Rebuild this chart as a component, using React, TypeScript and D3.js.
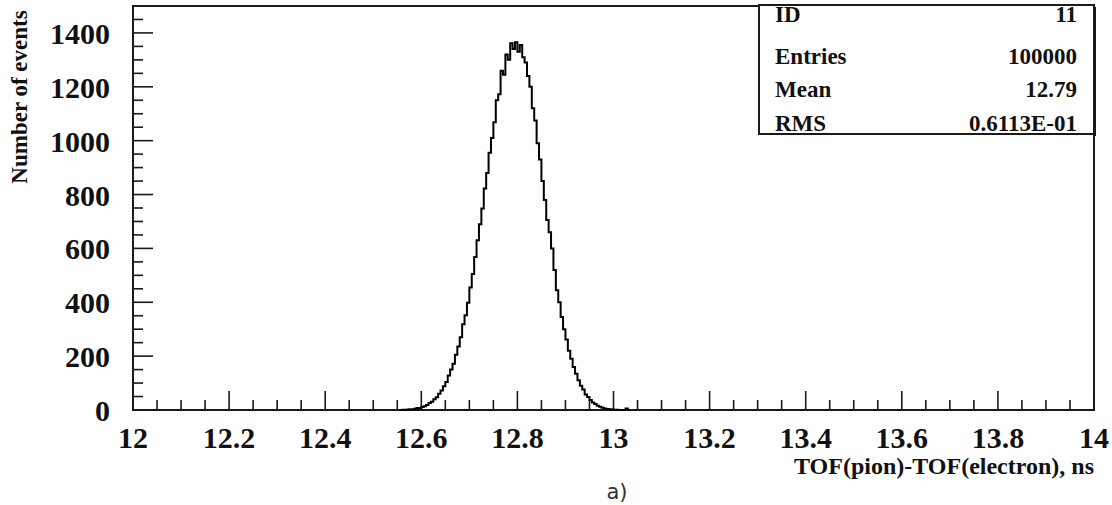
import React, { useEffect, useRef } from 'react';
import * as d3 from 'd3';

// histogram: bins of 0.005 ns starting at 12.555
const binStart = 12.555;
const binWidth = 0.005;
const counts = [
  0, 1, 0, 2, 3, 2, 5, 7, 6, 11, 14, 19, 26, 31, 40, 47, 60, 72, 88, 104,
  128, 150, 172, 205, 236, 270, 318, 352, 398, 455, 505, 568, 630, 690, 748, 822,
  880, 955, 1010, 1068, 1150, 1172, 1260, 1245, 1320, 1300, 1362, 1340,
  1365, 1330, 1355, 1310, 1290, 1240, 1200, 1120, 1075, 990, 930, 850,
  780, 705, 660, 600, 520, 445, 400, 345, 300, 262, 220, 190, 160, 135,
  110, 90, 76, 58, 48, 37, 28, 22, 16, 12, 8, 6, 4, 3, 2, 1, 1, 0, 0, 0, 6, 0,
];

const xTickLabels = [12, 12.2, 12.4, 12.6, 12.8, 13, 13.2, 13.4, 13.6, 13.8, 14];
const yTickLabels = [0, 200, 400, 600, 800, 1000, 1200, 1400];
const statNames = ['ID', 'Entries', 'Mean', 'RMS'];
const statValues = ['11', '100000', '12.79', '0.6113E-01'];

const W = 1112;
const H = 505;
const serif = '"Liberation Serif", "DejaVu Serif", serif';

const App = () => {
  const ref = useRef<SVGSVGElement>(null);

  useEffect(() => {
    document.body.style.margin = '0';
    const svg = d3.select(ref.current);
    svg.selectAll('*').remove();

    const left = 133, right = 1094, top = 6, bottom = 410;
    const x = d3.scaleLinear().domain([12, 14]).range([left, right]);
    const y = d3.scaleLinear().domain([0, 1500]).range([bottom, top]);
    const ink = '#1a1a1a';

    // frame
    svg.append('rect')
      .attr('x', left).attr('y', top)
      .attr('width', right - left).attr('height', bottom - top)
      .attr('fill', 'none').attr('stroke', ink).attr('stroke-width', 2);

    // x ticks (major every 0.2, minor every 0.05)
    const xMinor = d3.range(0, 41).map((i) => 12 + i * 0.05);
    svg.append('g').selectAll('line')
      .data(xMinor)
      .enter()
      .append('line')
      .attr('x1', (d) => x(d)).attr('x2', (d) => x(d))
      .attr('y1', bottom)
      .attr('y2', (d, i) => (i % 4 === 0 ? bottom - 19 : bottom - 10))
      .attr('stroke', ink).attr('stroke-width', 1.6);

    // y ticks (major every 200, minor every 50)
    const yMinor = d3.range(0, 30).map((i) => i * 50);
    svg.append('g').selectAll('line')
      .data(yMinor)
      .enter()
      .append('line')
      .attr('y1', (d) => y(d)).attr('y2', (d) => y(d))
      .attr('x1', left)
      .attr('x2', (d) => (d % 200 === 0 ? left + 20 : left + 10))
      .attr('stroke', ink).attr('stroke-width', 1.6);

    svg.append('g').selectAll('text')
      .data(xTickLabels)
      .enter()
      .append('text')
      .text((d) => String(d))
      .attr('x', (d) => x(d))
      .attr('y', 448)
      .attr('text-anchor', 'middle')
      .attr('font-family', serif).attr('font-weight', 'bold')
      .attr('font-size', 30).attr('fill', '#111');

    svg.append('g').selectAll('text')
      .data(yTickLabels)
      .enter()
      .append('text')
      .text((d) => String(d))
      .attr('x', 110)
      .attr('y', (d) => y(d) + 11)
      .attr('text-anchor', 'end')
      .attr('font-family', serif).attr('font-weight', 'bold')
      .attr('font-size', 30).attr('fill', '#111');

    // histogram
    const pts: [number, number][] = [[binStart, 0]];
    counts.forEach((c, i) => pts.push([binStart + i * binWidth, c]));
    pts.push([binStart + counts.length * binWidth, 0]);
    const line = d3.line<[number, number]>()
      .x((d) => x(d[0]))
      .y((d) => y(d[1]))
      .curve(d3.curveStepAfter);
    svg.append('path')
      .attr('d', line(pts))
      .attr('fill', 'none').attr('stroke', '#000').attr('stroke-width', 2);

    // axis titles
    svg.append('text')
      .text('Number of events')
      .attr('transform', 'translate(27,97) rotate(-90)')
      .attr('text-anchor', 'middle')
      .attr('font-family', serif).attr('font-weight', 'bold')
      .attr('font-size', 23).attr('fill', '#111');

    svg.append('text')
      .text('TOF(pion)-TOF(electron), ns')
      .attr('x', right).attr('y', 474)
      .attr('text-anchor', 'end')
      .attr('font-family', serif).attr('font-weight', 'bold')
      .attr('font-size', 24).attr('fill', '#111');

    svg.append('text')
      .text('a)')
      .attr('x', 617).attr('y', 499)
      .attr('text-anchor', 'middle')
      .attr('font-family', '"DejaVu Sans", sans-serif')
      .attr('font-size', 21).attr('fill', '#333');

    // statistics box
    const bx = 759, by = 5, bw = right - bx, bh = 129;
    svg.append('rect')
      .attr('x', bx).attr('y', by).attr('width', bw).attr('height', bh)
      .attr('fill', '#fff').attr('stroke', ink).attr('stroke-width', 2);
    svg.append('line')
      .attr('x1', right + 1).attr('x2', right + 1)
      .attr('y1', by + 2).attr('y2', by + bh + 2)
      .attr('stroke', ink).attr('stroke-width', 2);

    const rowY = [22, 64, 97, 131];
    const stats = svg.append('g');
    stats.selectAll('text.name')
      .data(statNames)
      .enter()
      .append('text')
      .attr('class', 'name')
      .text((d) => d)
      .attr('x', 775)
      .attr('y', (d, i) => rowY[i])
      .attr('font-family', serif).attr('font-weight', 'bold')
      .attr('font-size', 23).attr('fill', '#111');
    stats.selectAll('text.val')
      .data(statValues)
      .enter()
      .append('text')
      .attr('class', 'val')
      .text((d) => d)
      .attr('x', 1077)
      .attr('y', (d, i) => rowY[i])
      .attr('text-anchor', 'end')
      .attr('font-family', serif).attr('font-weight', 'bold')
      .attr('font-size', 23).attr('fill', '#111');
  }, []);

  return <svg ref={ref} width={W} height={H} style={{ display: 'block', background: '#fff' }} />;
};

export default App;
